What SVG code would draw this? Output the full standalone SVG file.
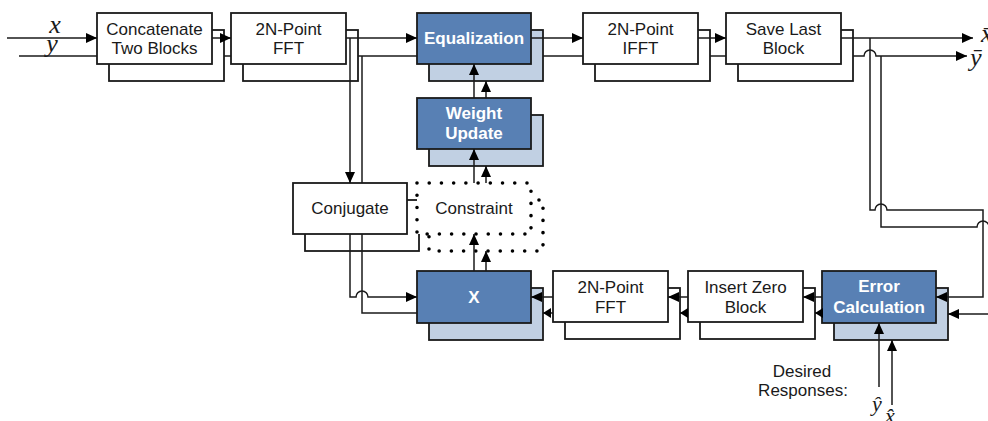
<svg xmlns="http://www.w3.org/2000/svg" width="988" height="421" viewBox="0 0 988 421">
<style>
.box{fill:#fff;stroke:#1a1a1a;stroke-width:1.8}
.bf{fill:#5880b4;stroke:#1a1a1a;stroke-width:1.8}
.bb{fill:#c1d0e3;stroke:#1a1a1a;stroke-width:1.8}
.dot{fill:#fff;stroke:#000;stroke-width:3.6;stroke-dasharray:0 12.22;stroke-linecap:round}
.t{font-family:"Liberation Sans",Arial,sans-serif;font-size:17px;text-anchor:middle;fill:#1a1a1a}
.tw{font-weight:bold;fill:#fff}
.m{font-family:"Liberation Serif","Times New Roman",serif;font-style:italic;fill:#1a1a1a}
.ln{fill:none;stroke:#1a1a1a;stroke-width:1.5}
.a{marker-end:url(#ah)}
.s{marker-end:url(#as)}
</style>
<defs>
<marker id="ah" viewBox="0 0 11 10" refX="11" refY="5" markerWidth="11" markerHeight="10" markerUnits="userSpaceOnUse" orient="auto"><path d="M0,0 L11,5 L0,10 z" fill="#000"/></marker>
<marker id="as" viewBox="0 0 8 10" refX="8" refY="5" markerWidth="8" markerHeight="10" markerUnits="userSpaceOnUse" orient="auto"><path d="M0,0 L8,5 L0,10 z" fill="#000"/></marker>
</defs>

<g id="concat"><rect class="box" x="109" y="30" width="115" height="51"/><rect class="box" x="97" y="13" width="115" height="51"/><text class="t" x="154.5" y="35">Concatenate</text><text class="t" x="154.5" y="54">Two Blocks</text></g>
<g id="fft1"><rect class="box" x="243" y="30" width="115" height="51"/><rect class="box" x="231" y="13" width="115" height="51"/><text class="t" x="288.5" y="35">2N-Point</text><text class="t" x="288.5" y="54">FFT</text></g>
<g id="equalization"><rect class="bb" x="429" y="30" width="114" height="51"/><rect class="bf" x="417" y="13" width="114" height="51"/><text class="t tw" x="474" y="44">Equalization</text></g>
<g id="ifft"><rect class="box" x="595" y="30" width="115" height="51"/><rect class="box" x="583" y="13" width="115" height="51"/><text class="t" x="640.5" y="35">2N-Point</text><text class="t" x="640.5" y="54">IFFT</text></g>
<g id="save"><rect class="box" x="738" y="30" width="115" height="51"/><rect class="box" x="726" y="13" width="115" height="51"/><text class="t" x="783.5" y="35">Save Last</text><text class="t" x="783.5" y="54">Block</text></g>
<g id="weight"><rect class="bb" x="429" y="115" width="114" height="51"/><rect class="bf" x="417" y="98" width="114" height="51"/><text class="t tw" x="474" y="119">Weight</text><text class="t tw" x="474" y="139">Update</text></g>
<g id="conjugate"><rect class="box" x="305" y="200" width="114" height="51"/><rect class="box" x="293" y="183" width="114" height="51"/><text class="t" x="350" y="214">Conjugate</text></g>
<g id="constraint"><rect class="dot" x="429" y="200" width="114" height="51"/><rect class="dot" x="417" y="183" width="114" height="51"/><text class="t" x="474" y="214">Constraint</text></g>
<g id="xblock"><rect class="bb" x="429" y="288" width="114" height="52"/><rect class="bf" x="417" y="271" width="114" height="52"/><text class="t tw" x="474" y="303">X</text></g>
<g id="fft2"><rect class="box" x="565" y="288" width="115" height="51"/><rect class="box" x="553" y="271" width="115" height="51"/><text class="t" x="610.5" y="293">2N-Point</text><text class="t" x="610.5" y="313">FFT</text></g>
<g id="insert"><rect class="box" x="700" y="288" width="115" height="51"/><rect class="box" x="688" y="271" width="115" height="51"/><text class="t" x="745.5" y="293">Insert Zero</text><text class="t" x="745.5" y="313">Block</text></g>
<g id="error"><rect class="bb" x="834" y="288" width="114" height="52"/><rect class="bf" x="822" y="271" width="114" height="52"/><text class="t tw" x="879" y="292">Error</text><text class="t tw" x="879" y="313">Calculation</text></g>

<g id="connectors">
<path class="ln a" d="M7,38 H97"/>
<path class="ln" d="M19,56 H97"/>
<path class="ln a" d="M212,38 H231"/>
<path class="ln" d="M224,56 H231"/>
<path class="ln a" d="M346,38 H417"/>
<path class="ln" d="M358,56 H417"/>
<path class="ln a" d="M531,38 H583"/>
<path class="ln" d="M543,56 H583"/>
<path class="ln a" d="M698,38 H726"/>
<path class="ln" d="M710,56 H726"/>
<path class="ln a" d="M841,38 H973"/>
<path class="ln a" d="M853,56 H864 a6,6 0 0 1 12,0 H967"/>
<path class="ln a" d="M350,38 V183"/>
<path class="ln" d="M362,56 V183"/>
<path class="ln a" d="M350,234 V297 H356 a6,6 0 0 1 12,0 H417"/>
<path class="ln" d="M362,234 V313 H417"/>
<path class="ln a" d="M474,271 V234"/>
<path class="ln a" d="M486,271 V251"/>
<path class="ln a" d="M474,183 V149"/>
<path class="ln a" d="M486,183 V166"/>
<path class="ln a" d="M474,98 V64"/>
<path class="ln a" d="M486,98 V81"/>
<path class="ln a" d="M870,38 V210 H875 a6,6 0 0 1 12,0 H983 V297 H936"/>
<path class="ln" d="M881,56 V227 H977 a6,6 0 0 1 12,0"/>
<path class="ln a" d="M989,314 H948"/>
<path class="ln a" d="M822,297 H803"/>
<path class="ln s" d="M822,313 H815"/>
<path class="ln a" d="M688,297 H668"/>
<path class="ln s" d="M688,313 H680"/>
<path class="ln a" d="M553,297 H531"/>
<path class="ln s" d="M553,313 H543"/>
<path class="ln a" d="M879,387 V323"/>
<path class="ln a" d="M892,405 V340"/>
</g>

<g id="labels">
<text class="m" x="55" y="33" font-size="26" text-anchor="middle">x</text>
<text class="m" x="52" y="52" font-size="26" text-anchor="middle">y</text>
<text class="m" x="981" y="42" font-size="26">x̄</text>
<text class="m" x="970" y="66" font-size="26">ȳ</text>
<text class="t" x="802" y="377">Desired</text>
<text class="t" x="803" y="396">Responses:</text>
<text class="m" x="877" y="411" font-size="22" text-anchor="middle">ŷ</text>
<text class="m" x="890" y="423" font-size="22" text-anchor="middle">x̂</text>
</g>
</svg>
